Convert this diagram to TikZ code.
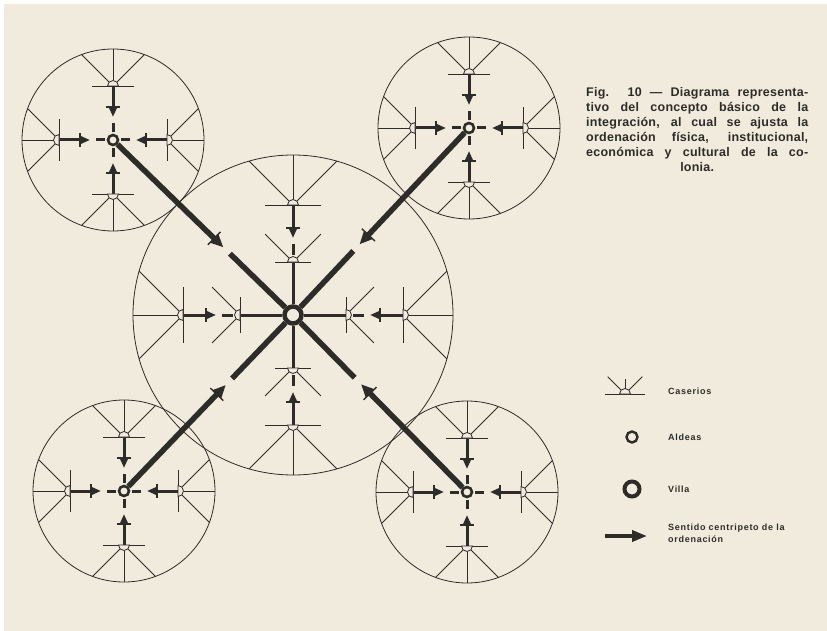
\documentclass[tikz,border=0pt]{standalone}
\usepackage{fontspec}
\setmainfont{Liberation Sans}
\usetikzlibrary{calc,arrows.meta}
\definecolor{papel}{HTML}{F0EBDC}
\definecolor{tinta}{HTML}{2E2C29}
\tikzset{
  fino/.style={draw=tinta, line width=0.8pt},
  eje/.style={draw=tinta, line width=3pt},
  grueso/.style={draw=tinta, line width=5.5pt},
  punta/.style={-{Triangle[length=10pt,width=8pt]}},
  puntag/.style={-{Triangle[length=13pt,width=11pt]}},
  aldea/.style={circle, draw=tinta, line width=2.6pt, fill=papel, minimum size=10pt, inner sep=0pt},
  villa/.style={circle, draw=tinta, line width=4.5pt, fill=papel, minimum size=17pt, inner sep=0pt},
  titulo/.style={anchor=base west, inner sep=0pt, text=tinta, font=\bfseries\fontsize{12.5}{15}\selectfont\addfontfeatures{LetterSpace=2}},
  leyenda/.style={anchor=west, inner sep=0pt, text=tinta, align=left, font=\bfseries\fontsize{9}{12}\selectfont\addfontfeatures{LetterSpace=8}},
}
\newcommand{\caserio}[3]{%
  \draw[fino] (#1) ++(#2+90:#3) -- ++(#2-90:2*#3);
  \draw[fino, fill=papel] (#1) ++(#2+90:5.5) arc[start angle=#2+90, end angle=#2-90, radius=5.5] -- cycle;
}
\begin{document}
\begin{tikzpicture}[x=1pt,y=-1pt]
\useasboundingbox (0,0) rectangle (827,631);
\fill[white] (0,0) rectangle (827,631);
\fill[papel] (4,4) rectangle (827,631);

\node[villa] (V) at (293,315) {};
\foreach \n/\x/\y in {tl/113/140,tr/469/128,bl/124/491,br/467/492}
  \node[aldea] (\n) at (\x,\y) {};

\draw[fino] (V) circle (160);
\foreach \n in {tl,tr,bl,br}
  \draw[fino] (\n) circle (91);

\begin{scope}
  \clip (V) circle (160);
  \foreach \a in {0,90,180,270}
    \foreach \d in {-45,0,45}
      \draw[fino] (V) ++(\a:110) ++(\a+\d:5.5) -- ++(\a+\d:200);
\end{scope}
\foreach \n in {tl,tr,bl,br} {
  \begin{scope}
    \clip (\n) circle (91);
    \foreach \a in {0,90,180,270}
      \foreach \d in {-45,0,45}
        \draw[fino] (\n) ++(\a:54) ++(\a+\d:5.5) -- ++(\a+\d:150);
  \end{scope}
}

\foreach \n in {tl,tr,bl,br}
  \foreach \a in {0,90,180,270} {
    \path (\n) ++(\a:54) coordinate (\n-\a);
    \draw[eje,punta] (\n-\a) -- ($(\n-\a)!31pt!(\n)$);
    \draw[eje] ($(\n-\a)!37pt!(\n)$) -- ($(\n-\a)!46pt!(\n)$);
    \coordinate (m) at ($(\n-\a)!21pt!(\n)$);
    \draw[fino, line width=1.2pt] ($(m)!7pt!90:(\n)$) -- ($(m)!7pt!-90:(\n)$);
    \caserio{\n-\a}{\a}{21}
  }

\foreach \a in {0,90,180,270} {
  \path (V) ++(\a:110) coordinate (e\a) (V) ++(\a:53) coordinate (i\a);
  \draw[fino] (i\a) ++(\a+45:5.5) -- ++(\a+45:34) (i\a) ++(\a-45:5.5) -- ++(\a-45:34);
  \draw[eje,punta] (e\a) -- ($(e\a)!33pt!(i\a)$);
  \draw[eje] ($(e\a)!39pt!(i\a)$) -- ($(e\a)!50pt!(i\a)$);
  \coordinate (m) at ($(e\a)!23pt!(i\a)$);
  \draw[fino, line width=1.2pt] ($(m)!7pt!90:(i\a)$) -- ($(m)!7pt!-90:(i\a)$);
  \draw[eje] (i\a) -- (V);
  \caserio{e\a}{\a}{28}
  \caserio{i\a}{\a}{18}
}

\foreach \n in {tl,tr,bl,br} {
  \draw[grueso,puntag] (\n) -- ($(V)!97pt!(\n)$);
  \draw[grueso] ($(V)!88pt!(\n)$) -- (V);
  \coordinate (m) at ($(V)!110pt!(\n)$);
  \draw[fino, line width=1.4pt] ($(m)!9pt!90:(V)$) -- ($(m)!9pt!-90:(V)$);
}

\node[titulo] (t1) at (586,97) {\makebox[222pt][s]{Fig. 10 — Diagrama representa-}};
\node[titulo] (t2) at (586,112) {\makebox[222pt][s]{tivo del concepto básico de la}};
\node[titulo] (t3) at (586,127) {\makebox[222pt][s]{integración, al cual se ajusta la}};
\node[titulo] (t4) at (586,142) {\makebox[222pt][s]{ordenación física, institucional,}};
\node[titulo] (t5) at (586,157) {\makebox[222pt][s]{económica y cultural de la co-}};
\node[titulo] (t6) at (586,172) {\makebox[222pt][c]{lonia.}};

\coordinate (lc) at (625,394);
\draw[fino] (lc) ++(270:5.5) -- ++(270:10);
\draw[fino] (lc) ++(225:5.5) -- ++(225:19) (lc) ++(315:5.5) -- ++(315:19);
\caserio{lc}{270}{20}
\node[leyenda] (tc) at (668,391) {Caserios};
\node[aldea, line width=2.4pt, minimum size=11pt] (la) at (632,437) {};
\node[leyenda] (ta) at (668,437) {Aldeas};
\node[villa, line width=4pt, minimum size=15pt] (lv) at (632,489) {};
\node[leyenda] (tv) at (668,489) {Villa};
\coordinate (f0) at (605,536);
\coordinate (f1) at (647,536);
\draw[eje, line width=3.5pt, -{Triangle[length=15pt,width=11pt]}] (f0) -- (f1);
\node[leyenda] (tf) at (668,533) {Sentido centripeto de la\\ordenación};
\end{tikzpicture}
\end{document}
